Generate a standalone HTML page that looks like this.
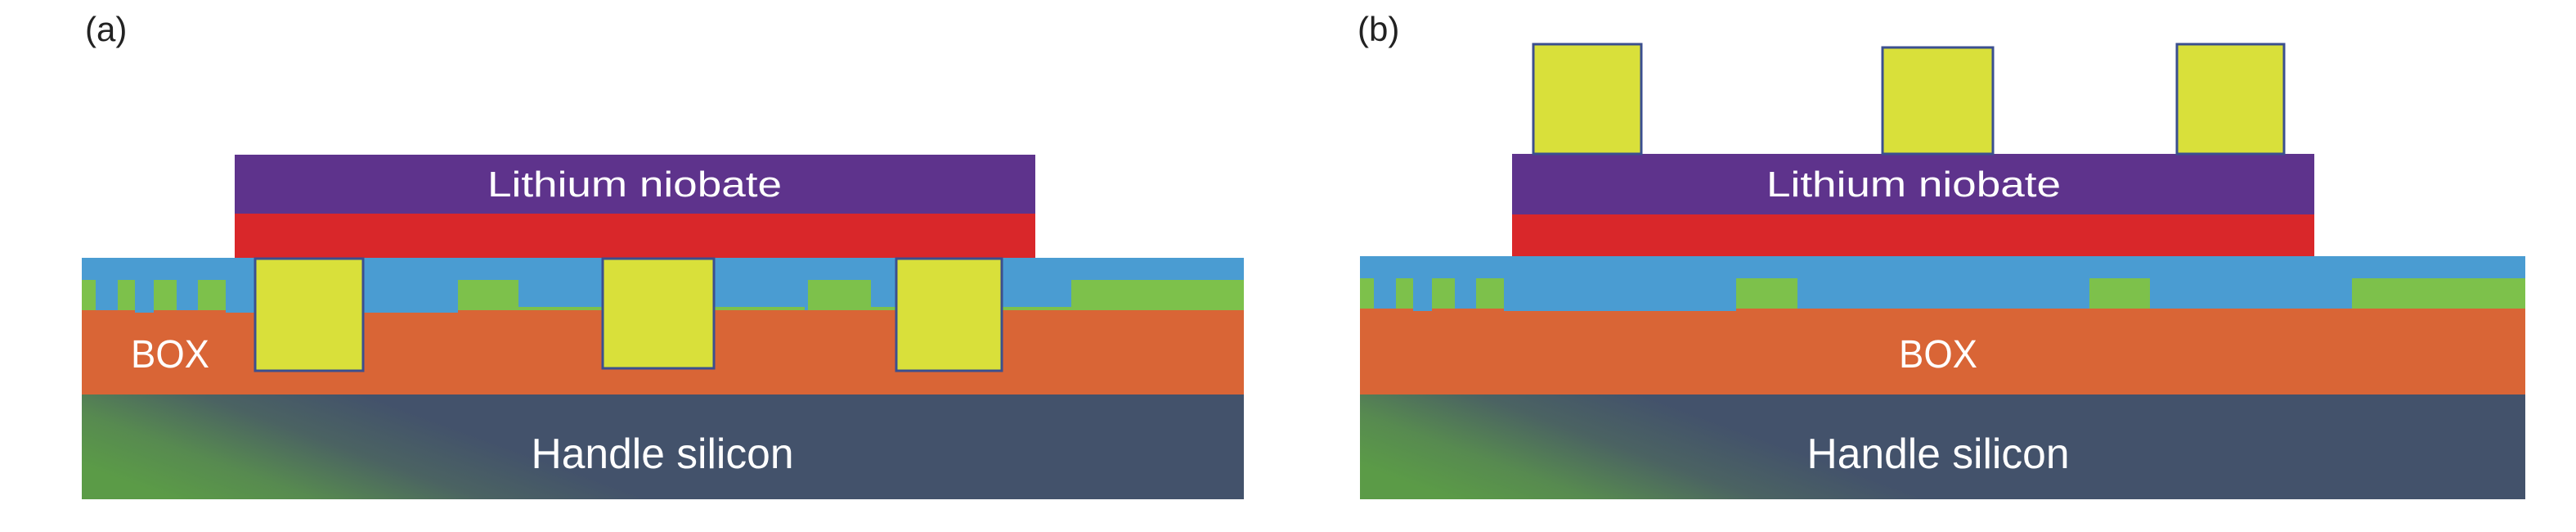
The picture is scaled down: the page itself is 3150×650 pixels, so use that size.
<!DOCTYPE html>
<html><head><meta charset="utf-8"><style>html,body{margin:0;padding:0;background:#fff}svg{display:block}</style></head>
<body>
<svg width="3150" height="650" viewBox="0 0 3150 650" xmlns="http://www.w3.org/2000/svg" font-family="Liberation Sans, sans-serif">
<defs>
<linearGradient id="hsa" gradientUnits="userSpaceOnUse" x1="0" y1="532.5" x2="68.6" y2="344.7">
<stop offset="0" stop-color="#5b9b47"/><stop offset="0.3" stop-color="#578a50"/><stop offset="0.65" stop-color="#4b6362"/><stop offset="1" stop-color="#43526b"/>
</linearGradient>
<linearGradient id="hsb" gradientUnits="userSpaceOnUse" x1="1563" y1="532.5" x2="1631.6" y2="344.7">
<stop offset="0" stop-color="#5b9b47"/><stop offset="0.3" stop-color="#578a50"/><stop offset="0.65" stop-color="#4b6362"/><stop offset="1" stop-color="#43526b"/>
</linearGradient>
</defs>
<text x="104" y="50" font-size="42" fill="#222">(a)</text>
<text x="1660" y="50" font-size="42" fill="#222">(b)</text>

<!-- Panel a -->
<g>
<rect x="100" y="482" width="1421" height="128" fill="url(#hsa)"/>
<rect x="100" y="379" width="1421" height="103" fill="#d96536"/>
<rect x="100" y="315" width="1421" height="64" fill="#4a9cd2"/>
<rect x="165" y="379" width="23" height="3" fill="#4a9cd2"/>
<rect x="276" y="379" width="284" height="3" fill="#4a9cd2"/>
<g fill="#7dc14b">
<rect x="100" y="342" width="17" height="37"/>
<rect x="144" y="342" width="21" height="37"/>
<rect x="188" y="342" width="28" height="37"/>
<rect x="242" y="342" width="34" height="37"/>
<rect x="560" y="342" width="74" height="37"/>
<rect x="634" y="375" width="350" height="4"/>
<rect x="988" y="342" width="77" height="37"/>
<rect x="1065" y="375" width="250" height="4"/>
<rect x="1310" y="342" width="211" height="37"/>
</g>
<rect x="287" y="189" width="979" height="72" fill="#5e338c"/>
<rect x="287" y="261" width="979" height="54" fill="#d9272a"/>
<g fill="#d9e03a" stroke="#3b4f8f" stroke-width="3">
<rect x="312" y="316" width="132" height="137"/>
<rect x="737" y="316" width="136" height="134"/>
<rect x="1096" y="316" width="129" height="137"/>
</g>
<text x="776" y="240" font-size="44" fill="#fff" text-anchor="middle" textLength="360" lengthAdjust="spacingAndGlyphs">Lithium niobate</text>
<text x="208" y="449" font-size="48" fill="#fff" text-anchor="middle" textLength="96" lengthAdjust="spacingAndGlyphs">BOX</text>
<text x="810" y="572" font-size="52" fill="#fff" text-anchor="middle" textLength="321" lengthAdjust="spacingAndGlyphs">Handle silicon</text>
</g>

<!-- Panel b -->
<g>
<rect x="1663" y="482" width="1425" height="128" fill="url(#hsb)"/>
<rect x="1663" y="377" width="1425" height="105" fill="#d96536"/>
<rect x="1663" y="313" width="1425" height="64" fill="#4a9cd2"/>
<rect x="1728" y="377" width="23" height="3" fill="#4a9cd2"/>
<rect x="1839" y="377" width="284" height="3" fill="#4a9cd2"/>
<g fill="#7dc14b">
<rect x="1663" y="340" width="17" height="37"/>
<rect x="1707" y="340" width="21" height="37"/>
<rect x="1751" y="340" width="28" height="37"/>
<rect x="1805" y="340" width="34" height="37"/>
<rect x="2123" y="340" width="75" height="37"/>
<rect x="2555" y="340" width="74" height="37"/>
<rect x="2876" y="340" width="212" height="37"/>
</g>
<rect x="1849" y="188" width="981" height="74" fill="#5e338c"/>
<rect x="1849" y="262" width="981" height="51" fill="#d9272a"/>
<g fill="#d9e03a" stroke="#3b4f8f" stroke-width="3">
<rect x="1875" y="54" width="132" height="134"/>
<rect x="2302" y="58" width="135" height="130"/>
<rect x="2662" y="54" width="131" height="134"/>
</g>
<text x="2340" y="240" font-size="44" fill="#fff" text-anchor="middle" textLength="360" lengthAdjust="spacingAndGlyphs">Lithium niobate</text>
<text x="2370" y="449" font-size="48" fill="#fff" text-anchor="middle" textLength="96" lengthAdjust="spacingAndGlyphs">BOX</text>
<text x="2370" y="572" font-size="52" fill="#fff" text-anchor="middle" textLength="321" lengthAdjust="spacingAndGlyphs">Handle silicon</text>
</g>
</svg>
</body></html>
